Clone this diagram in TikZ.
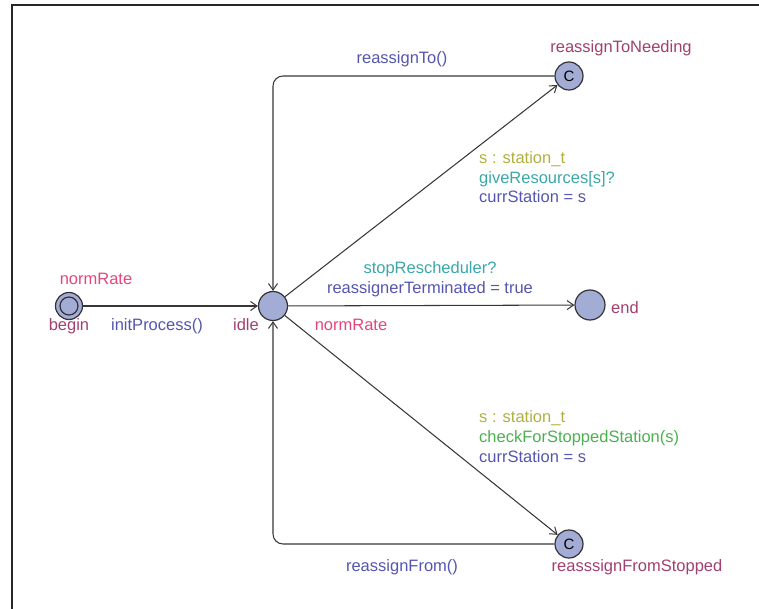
\documentclass[tikz,border=0pt]{standalone}
\usepackage{fontspec}
\setmainfont{Liberation Sans}
\usetikzlibrary{arrows.meta}
\definecolor{locfill}{RGB}{163,172,212}
\definecolor{locline}{RGB}{50,50,55}
\definecolor{edgeline}{RGB}{55,55,55}
\definecolor{locname}{RGB}{160,64,112}
\definecolor{invcol}{RGB}{228,70,124}
\definecolor{updcol}{RGB}{85,85,176}
\definecolor{synccol}{RGB}{58,168,168}
\definecolor{selcol}{RGB}{176,176,64}
\definecolor{guardcol}{RGB}{76,176,80}
\begin{document}
\begin{tikzpicture}[x=1pt,y=-1pt,
  loc/.style={circle, draw=locline, line width=1.2pt, fill=locfill, minimum size=28pt, inner sep=0pt},
  edge/.style={draw=edgeline, line width=1.05pt, -{Straight Barb[length=6.5pt,width=9pt,line width=1pt]}},
  lbl/.style={font=\fontsize{16.5}{20}\selectfont, inner sep=0pt, anchor=base},
  locnm/.style={lbl, text=locname},
  inv/.style={lbl, text=invcol},
  upd/.style={lbl, text=updcol},
  sync/.style={lbl, text=synccol},
  sel/.style={lbl, text=selcol},
  guard/.style={lbl, text=guardcol}]
\useasboundingbox (0,0) rectangle (759,609);
% frame
\draw[line width=2pt, draw=black!85] (12,609) -- (12,5) -- (759,5);

% locations
\node[loc, minimum size=27pt] (begin) at (69,306) {};
\node[circle, draw=locline, line width=1.2pt, minimum size=18pt, inner sep=0pt] (beginin) at (begin.center) {};
\node[loc, minimum size=29pt] (idle) at (273,306) {};
\node[loc, font=\fontsize{15}{15}\selectfont] (rtn) at (569,76) {C};
\node[loc, minimum size=30pt] (end) at (590,305) {};
\node[loc, font=\fontsize{15}{15}\selectfont] (rfs) at (569,544) {C};

% location names and invariants
\node[locnm] (nbegin) at (69,330) {begin};
\node[inv] (ibegin) at (96,284) {normRate};
\node[locnm] (nidle) at (246,330) {idle};
\node[inv] (iidle) at (351,330) {normRate};
\node[locnm] (nrtn) at (621,53) {reassignToNeeding};
\node[locnm] (nend) at (625,313) {end};
\node[locnm] (nrfs) at (637,571) {reasssignFromStopped};

% transitions
\draw[edge] (begin) -- (idle);
\draw[edge] (idle) -- (rtn);
\draw[edge, rounded corners=10pt] (rtn.west) -| (idle.north);
\draw[edge] (idle) -- (end);
\draw[edge] (idle) -- (rfs);
\draw[edge, rounded corners=10pt] (rfs.west) -| (idle.south);

% transition labels
\node[upd] (linit) at (157,330) {initProcess()};
\node[upd] (lrto) at (402,64) {reassignTo()};
\node[sel, anchor=base west] (lsel1) at (479,164) {s : station\_t};
\node[sync, anchor=base west] (lsync1) at (479,184) {giveResources[s]?};
\node[upd, anchor=base west] (lupd1) at (479,203) {currStation = s};
\node[sync] (lsync2) at (430,273) {stopRescheduler?};
\node[upd] (lupd2) at (430,293) {reassignerTerminated = true};
\node[sel, anchor=base west] (lsel2) at (479,422) {s : station\_t};
\node[guard, anchor=base west] (lguard) at (479,442) {checkForStoppedStation(s)};
\node[upd, anchor=base west] (lupd3) at (479,462) {currStation = s};
\node[upd] (lrfrom) at (402,571) {reassignFrom()};
\end{tikzpicture}
\end{document}
